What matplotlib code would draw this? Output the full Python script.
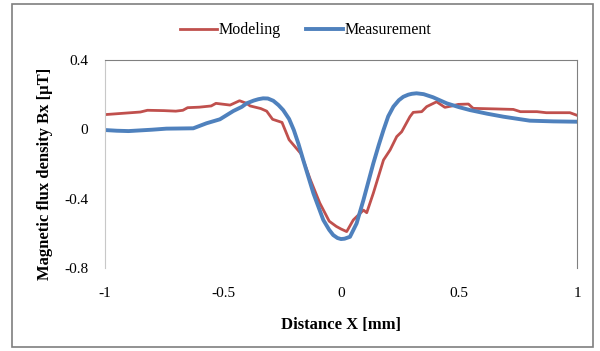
import matplotlib.pyplot as plt
from matplotlib.patches import Rectangle

# Values
model_x = [-1.0, -0.95, -0.9, -0.85, -0.82, -0.75, -0.7, -0.67, -0.65, -0.6, -0.55, -0.53,
           -0.5, -0.47, -0.43, -0.4, -0.385, -0.34, -0.315, -0.29, -0.25, -0.22, -0.17,
           -0.13, -0.09, -0.05, -0.02, 0.0, 0.024, 0.052, 0.095, 0.109, 0.137, 0.18, 0.208,
           0.236, 0.257, 0.292, 0.306, 0.342, 0.363, 0.405, 0.44, 0.47, 0.497, 0.54, 0.56,
           0.65, 0.73, 0.76, 0.83, 0.87, 0.97, 1.0]
model_y = [0.085, 0.09, 0.095, 0.10, 0.11, 0.108, 0.105, 0.11, 0.125, 0.128, 0.135, 0.15,
           0.145, 0.14, 0.165, 0.15, 0.135, 0.12, 0.105, 0.058, 0.04, -0.06, -0.14,
           -0.29, -0.425, -0.53, -0.56, -0.575, -0.59, -0.523, -0.466, -0.481, -0.368,
           -0.177, -0.119, -0.042, -0.014, 0.073, 0.098, 0.102, 0.131, 0.159, 0.127, 0.135,
           0.144, 0.146, 0.121, 0.118, 0.115, 0.102, 0.102, 0.096, 0.096, 0.081]

meas_x = [-1.0, -0.95, -0.9, -0.8, -0.74, -0.68, -0.626, -0.57, -0.513, -0.456, -0.42,
          -0.4, -0.37, -0.35, -0.33, -0.31, -0.287, -0.265, -0.245, -0.22, -0.2, -0.18,
          -0.16, -0.117, -0.075, -0.05, -0.033, -0.015, 0.0, 0.015, 0.038, 0.066, 0.095,
          0.137, 0.16, 0.18, 0.2, 0.222, 0.245, 0.264, 0.285, 0.3, 0.32, 0.35, 0.39,
          0.448, 0.5, 0.547, 0.62, 0.688, 0.8, 0.9, 1.0]
meas_y = [-0.004, -0.008, -0.01, -0.002, 0.004, 0.005, 0.006, 0.035, 0.058, 0.106, 0.13,
          0.15, 0.166, 0.174, 0.179, 0.178, 0.165, 0.14, 0.111, 0.06, -0.004, -0.085,
          -0.177, -0.369, -0.523, -0.58, -0.61, -0.627, -0.633, -0.631, -0.62, -0.543,
          -0.408, -0.196, -0.09, -0.004, 0.075, 0.131, 0.168, 0.188, 0.2, 0.205, 0.208,
          0.203, 0.185, 0.15, 0.128, 0.111, 0.09, 0.073, 0.05, 0.046, 0.044]

x_ticks = [-1, -0.5, 0, 0.5, 1]
x_tick_labels = ['-1', '-0.5', '0', '0.5', '1']
y_ticks = [0.4, 0, -0.4, -0.8]
y_tick_labels = ['0.4', '0', '-0.4', '-0.8']

plt.rcParams['font.family'] = ['Liberation Serif', 'DejaVu Serif']

fig = plt.figure(figsize=(6, 3.51), dpi=100)
fig.patches.append(Rectangle((0.02, 0.012), 0.968, 0.978, transform=fig.transFigure,
                             fill=False, edgecolor='#7f7f7f', linewidth=1.2))

ax = fig.add_axes([0.175, 0.2365, 0.7867, 0.5925])
ax.plot(model_x, model_y, color='#C0504D', linewidth=2.0, label='Modeling')
ax.plot(meas_x, meas_y, color='#4F81BD', linewidth=2.8, label='Measurement')

ax.set_xlim(-1, 1)
ax.set_ylim(-0.8, 0.4)
ax.set_xticks(x_ticks, x_tick_labels)
ax.set_yticks(y_ticks, y_tick_labels)
ax.tick_params(length=0, labelsize=11, pad=14)
ax.tick_params(axis='y', pad=12)

ax.spines['top'].set_color('#808080')
ax.spines['right'].set_color('#808080')
ax.spines['left'].set_color('#c8c8c8')
ax.spines['bottom'].set_visible(False)

ax.set_xlabel('Distance X [mm]', fontweight='bold', fontsize=12, va='center')
ax.xaxis.set_label_coords(0.5, -0.274)
ax.set_ylabel('Magnetic flux density Bx [\u03bcT]', fontweight='bold', fontsize=12,
              va='center')
ax.yaxis.set_label_coords(-0.127, 0.452)

ax.legend(loc='lower center', bbox_to_anchor=(0.425, 1.035), ncol=2, frameon=False,
          fontsize=11.5, handlelength=2.3, columnspacing=1.6, handletextpad=0.1)

plt.savefig('out.png', dpi=100)
